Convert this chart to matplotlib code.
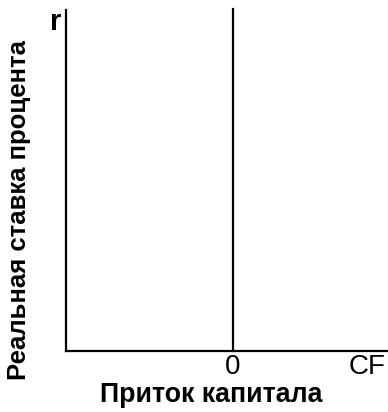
import matplotlib
matplotlib.use("Agg")
import matplotlib.pyplot as plt

x_label = "Приток капитала"
y_label = "Реальная ставка процента"
y_axis_symbol = "r"
x_axis_symbol = "CF"
zero_label = "0"
x_limits = [-1.0, 0.93]
y_limits = [0.0, 1.0]
vertical_line_x = 0.0

plt.rcParams['font.family'] = ['Liberation Sans', 'DejaVu Sans']

fig = plt.figure(figsize=(3.88, 4.12), dpi=100)
ax = fig.add_axes([66/388, 1-351/412, (388-66)/388, (351-10)/412])
ax.set_xlim(x_limits)
ax.set_ylim(y_limits)
for s in ['top', 'right']:
    ax.spines[s].set_visible(False)
for s in ['left', 'bottom']:
    ax.spines[s].set_linewidth(1.6)
ax.set_xticks([])
ax.set_yticks([])
ax.plot([vertical_line_x, vertical_line_x], [0, 1.003], color='black', lw=1.6, clip_on=False)

fig.text(233/388, 1-367/412, zero_label, ha='center', va='center', fontsize=20)
fig.text(367/388, 1-367/412, x_axis_symbol, ha='center', va='center', fontsize=20)
fig.text(56/388, 1-22/412, y_axis_symbol, ha='center', va='center', fontsize=21, fontweight='bold')
fig.text(211/388, 1-395/412, x_label, ha='center', va='center', fontsize=19.3, fontweight='bold')
fig.text(19/388, 1-210/412, y_label, ha='center', va='center', rotation=90, fontsize=18.5, fontweight='bold')

fig.savefig("out.png", dpi=100)
